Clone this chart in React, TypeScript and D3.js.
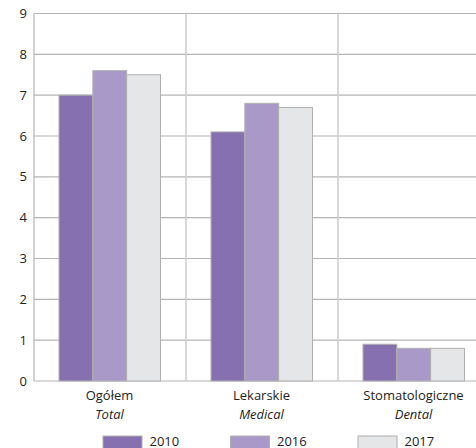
import React from "react";
import * as d3 from "d3";

const categoriesPl = ["Ogółem", "Lekarskie", "Stomatologiczne"];
const categoriesEn = ["Total", "Medical", "Dental"];
const seriesNames = ["2010", "2016", "2017"];
const values2010 = [7.0, 6.1, 0.9];
const values2016 = [7.6, 6.8, 0.8];
const values2017 = [7.5, 6.7, 0.8];
const yTicks = [0, 1, 2, 3, 4, 5, 6, 7, 8, 9];
const colors = ["#8670b0", "#a899c8", "#e5e6e8"];

const W = 476;
const H = 448;
const left = 34;
const right = 490;
const top = 13.5;
const bottom = 381;

export default function App() {
  const series = [values2010, values2016, values2017];
  const x = d3.scaleBand<number>().domain(d3.range(categoriesPl.length)).range([left, right]).paddingInner(0).paddingOuter(0);
  const inner = d3.scaleBand<number>().domain(d3.range(seriesNames.length)).range([25, 126.5]);
  const y = d3.scaleLinear().domain([0, 9]).range([bottom, top]);
  const font = "'Open Sans', sans-serif";
  const legendX = [103, 230.5, 358];
  return (
    <svg width={W} height={H} style={{ position: "absolute", left: 0, top: 0, display: "block" }}>
      {yTicks.map((t) => (
        <g key={t}>
          <line x1={left} x2={W} y1={y(t)} y2={y(t)} stroke="#b4b4b4" strokeWidth={1.2} />
          <text x={27} y={y(t)} dy="0.35em" textAnchor="end" fontFamily={font} fontSize={13} fill="#222">
            {t}
          </text>
        </g>
      ))}
      <line x1={left} x2={left} y1={top} y2={bottom} stroke="#b4b4b4" strokeWidth={1.2} />
      {[1, 2].map((i) => (
        <line key={i} x1={x(i)!} x2={x(i)!} y1={top} y2={bottom} stroke="#cfcfcf" strokeWidth={1.6} />
      ))}
      {categoriesPl.map((c, ci) =>
        series.map((s, si) => (
          <rect
            key={c + si}
            x={x(ci)! + inner(si)!}
            y={y(s[ci])}
            width={inner.bandwidth()}
            height={bottom - y(s[ci])}
            fill={colors[si]}
            stroke="#b0b0b0"
            strokeWidth={1}
          />
        ))
      )}
      {categoriesPl.map((c, ci) => (
        <g key={c} fontFamily={font} fontSize={13} fill="#222" textAnchor="middle">
          <text x={x(ci)! + 75.5} y={400}>{c}</text>
          <text x={x(ci)! + 75.5} y={418.5} fontStyle="italic">{categoriesEn[ci]}</text>
        </g>
      ))}
      {seriesNames.map((n, i) => (
        <g key={n}>
          <rect x={legendX[i]} y={436} width={39} height={14} fill={colors[i]} stroke="#b0b0b0" strokeWidth={1} />
          <text x={legendX[i] + 46.5} y={446} fontFamily={font} fontSize={13} fill="#222">
            {n}
          </text>
        </g>
      ))}
    </svg>
  );
}
